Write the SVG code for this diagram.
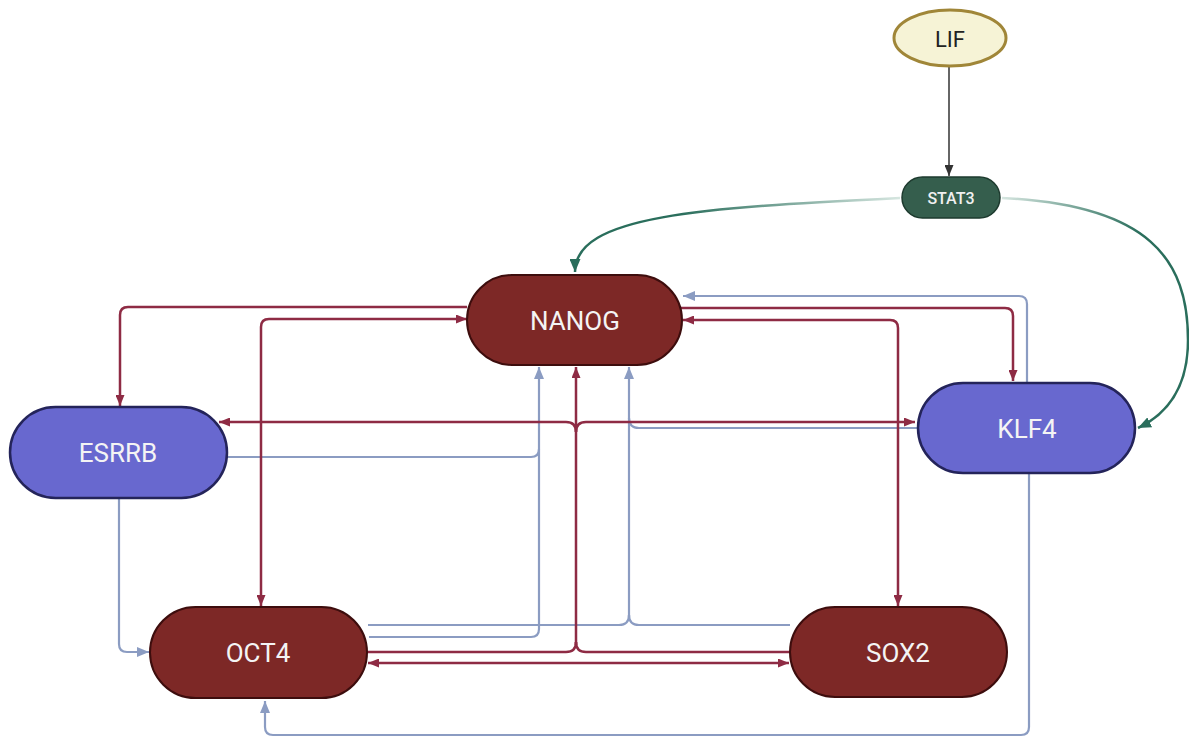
<svg xmlns="http://www.w3.org/2000/svg" width="1189" height="738" viewBox="0 0 1189 738">
<style>
.r{fill:none;stroke:#8e2b44;stroke-width:2.5}
.b{fill:none;stroke:#8b9cc2;stroke-width:2.2}
.g{fill:none;stroke-width:2.5}
.k{fill:none;stroke:#333;stroke-width:1.5}
.red rect{fill:#7d2826;stroke:#3d0d0d;stroke-width:2}
.blu rect{fill:#6868cf;stroke:#24245a;stroke-width:2.5}
.lbl{font-family:Roboto,"Liberation Sans",sans-serif;font-size:26px;fill:#f4f4f4;text-anchor:middle;dominant-baseline:central}
</style>
<defs>
<marker id="ar" viewBox="0 0 11 9" refX="11" refY="4.5" markerWidth="11" markerHeight="9" markerUnits="userSpaceOnUse" orient="auto-start-reverse"><path d="M0,0 L11,4.5 L0,9 z" fill="#8e2b44"/></marker>
<marker id="ab" viewBox="0 0 12 10" refX="12" refY="5" markerWidth="12" markerHeight="10" markerUnits="userSpaceOnUse" orient="auto-start-reverse"><path d="M0,0 L12,5 L0,10 z" fill="#8b9cc2"/></marker>
<marker id="ag" viewBox="0 0 13 11" refX="13" refY="5.5" markerWidth="13" markerHeight="11" markerUnits="userSpaceOnUse" orient="auto"><path d="M0,0 L13,5.5 L0,11 z" fill="#2a6e5c"/></marker>
<marker id="ak" viewBox="0 0 11 9" refX="11" refY="4.5" markerWidth="11" markerHeight="9" markerUnits="userSpaceOnUse" orient="auto"><path d="M0,0 L11,4.5 L0,9 z" fill="#333"/></marker>
<linearGradient id="g1" gradientUnits="userSpaceOnUse" x1="900" y1="0" x2="680" y2="0"><stop offset="0" stop-color="#d6e6e0"/><stop offset="1" stop-color="#2a6e5c"/></linearGradient>
<linearGradient id="g2" gradientUnits="userSpaceOnUse" x1="1002" y1="0" x2="1140" y2="0"><stop offset="0" stop-color="#d6e6e0"/><stop offset="1" stop-color="#2a6e5c"/></linearGradient>
</defs>

<g id="connectors">
<path class="k" d="M949 67 V176" marker-end="url(#ak)"/>
<path class="g" stroke="url(#g1)" d="M900 198 C700 208 575 215 575 272" marker-end="url(#ag)"/>
<path class="g" stroke="url(#g2)" d="M1002 198 C1150 205 1188 260 1188 340 C1188 390 1165 415 1138 428" marker-end="url(#ag)"/>

<path class="b" d="M228 457 H531 Q539 457 539 449 V367" marker-end="url(#ab)"/>
<path class="b" d="M369 637 H531 Q539 637 539 629 V449"/>
<path class="b" d="M629 617 V367" marker-end="url(#ab)"/>
<path class="b" d="M368 625 H619 Q629 625 629 615"/>
<path class="b" d="M790 625 H639 Q629 625 629 615"/>
<path class="b" d="M918 428 H639 Q629 428 629 418"/>
<path class="b" d="M119 498 V644 Q119 652 127 652 H149" marker-end="url(#ab)"/>
<path class="b" d="M1027 383 V304 Q1027 296 1019 296 H683" marker-end="url(#ab)"/>
<path class="b" d="M1029 473 V727 Q1029 735 1021 735 H273 Q265 735 265 727 V701" marker-end="url(#ab)"/>

<path class="r" d="M467 307 H128 Q120 307 120 315 V406" marker-end="url(#ar)"/>
<path class="r" d="M467 319 H269 Q261 319 261 327 V606" marker-start="url(#ar)" marker-end="url(#ar)"/>
<path class="r" d="M681 308 H1005 Q1013 308 1013 316 V381" marker-end="url(#ar)"/>
<path class="r" d="M683 320 H890 Q898 320 898 328 V606" marker-start="url(#ar)" marker-end="url(#ar)"/>
<path class="r" d="M576 645 V367" marker-end="url(#ar)"/>
<path class="r" d="M367 652 H566 Q576 652 576 642"/>
<path class="r" d="M790 652 H586 Q576 652 576 642"/>
<path class="r" d="M576 432 Q576 422 566 422 H219" marker-end="url(#ar)"/>
<path class="r" d="M576 432 Q576 422 586 422 H915" marker-end="url(#ar)"/>
<path class="r" d="M368 663 H789" marker-start="url(#ar)" marker-end="url(#ar)"/>
</g>

<g id="LIF">
<ellipse cx="950" cy="38" rx="56" ry="28" fill="#f6f3d6" stroke="#a08638" stroke-width="3"/>
<text x="950" y="39" font-family="Roboto,'Liberation Sans',sans-serif" font-size="22" fill="#222" text-anchor="middle" dominant-baseline="central">LIF</text>
</g>
<g id="STAT3">
<rect x="902" y="177" width="98" height="41" rx="20.5" fill="#355e4d" stroke="#1d3a2e" stroke-width="1.5"/>
<text x="951" y="198" font-family="Roboto,'Liberation Sans',sans-serif" font-size="16" font-weight="500" fill="#f0f0f0" text-anchor="middle" dominant-baseline="central">STAT3</text>
</g>
<g id="NANOG" class="red">
<rect x="467" y="275" width="215" height="90" rx="45"/>
<text class="lbl" x="575" y="321">NANOG</text>
</g>
<g id="ESRRB" class="blu">
<rect x="10" y="407" width="217" height="91" rx="45.5"/>
<text class="lbl" x="118" y="453">ESRRB</text>
</g>
<g id="KLF4" class="blu">
<rect x="918" y="383" width="217" height="90" rx="45"/>
<text class="lbl" x="1027" y="429">KLF4</text>
</g>
<g id="OCT4" class="red">
<rect x="150" y="607" width="217" height="91" rx="45.5"/>
<text class="lbl" x="258" y="653">OCT4</text>
</g>
<g id="SOX2" class="red">
<rect x="790" y="607" width="217" height="90" rx="45"/>
<text class="lbl" x="898" y="653">SOX2</text>
</g>
</svg>
